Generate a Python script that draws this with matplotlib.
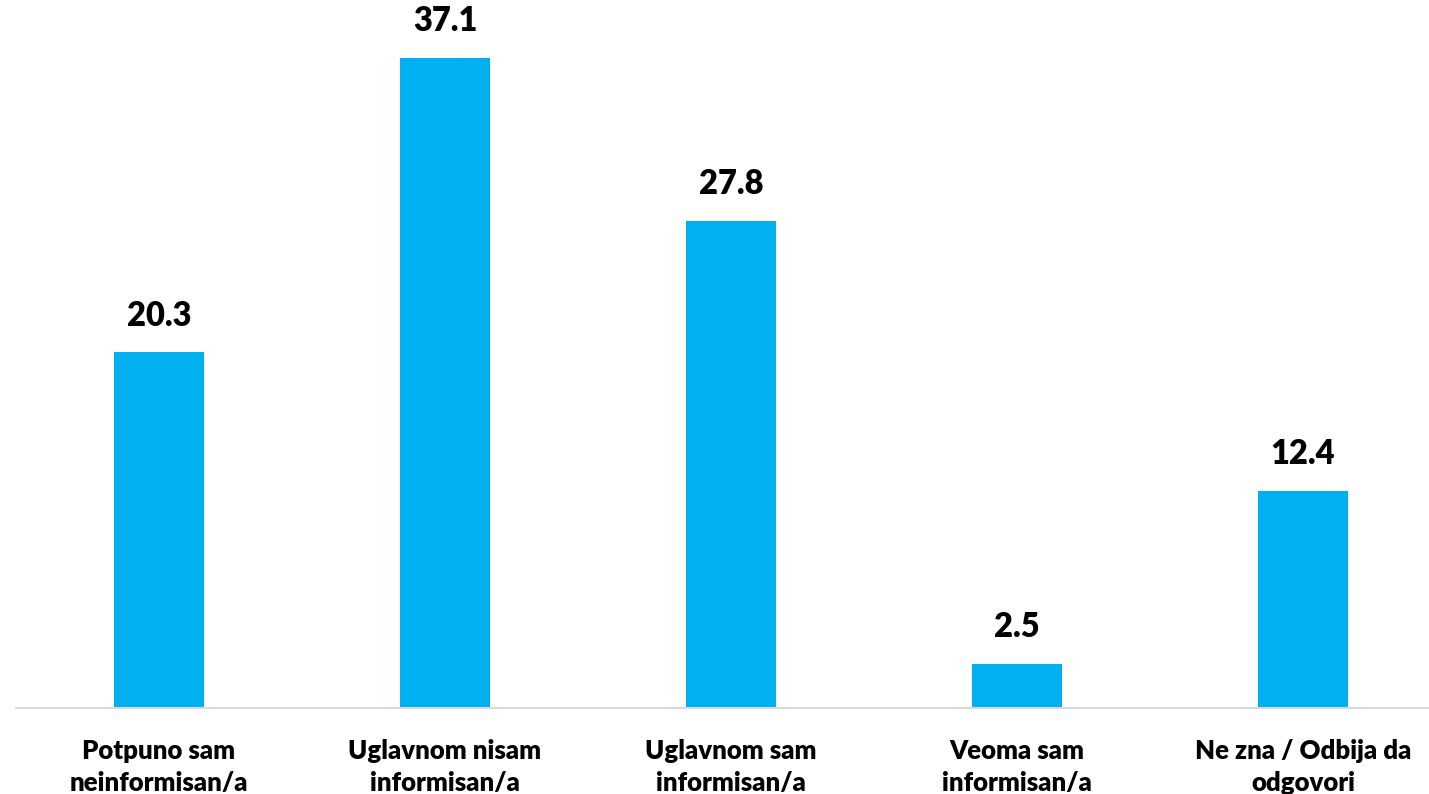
import matplotlib
matplotlib.use("Agg")
import matplotlib.pyplot as plt

categories = ["Potpuno sam\nneinformisan/a", "Uglavnom nisam\ninformisan/a",
              "Uglavnom sam\ninformisan/a", "Veoma sam\ninformisan/a",
              "Ne zna / Odbija da\nodgovori"]
values = [20.3, 37.1, 27.8, 2.5, 12.4]
value_labels = ["20.3", "37.1", "27.8", "2.5", "12.4"]

plt.rcParams['font.family'] = ['Lato', 'DejaVu Sans']

fig = plt.figure(figsize=(14.29, 7.94), dpi=100)
ax = fig.add_axes([16/1429, 1 - 708/794, 1413/1429, 708/794])

x = list(range(len(categories)))
bars = ax.bar(x, values, width=0.315, color="#00B0F0")
ax.set_xlim(-0.5, -0.5 + 1413/286)
ax.set_ylim(0, 708/17.52)

for xi, v, lab in zip(x, values, value_labels):
    ax.annotate(lab, (xi, v), xytext=(0, 15), textcoords="offset points",
                ha="center", va="bottom", fontsize=23.5, fontweight="heavy")

ax.set_xticks(x)
ax.set_xticklabels(categories, fontsize=18.5, fontweight="heavy", linespacing=1.4)
ax.tick_params(axis="x", length=0, pad=22)
ax.set_yticks([])
for s in ["top", "right", "left"]:
    ax.spines[s].set_visible(False)
ax.spines["bottom"].set_color("#D9D9D9")
ax.spines["bottom"].set_linewidth(1.5)

fig.savefig("out.png", dpi=100)
